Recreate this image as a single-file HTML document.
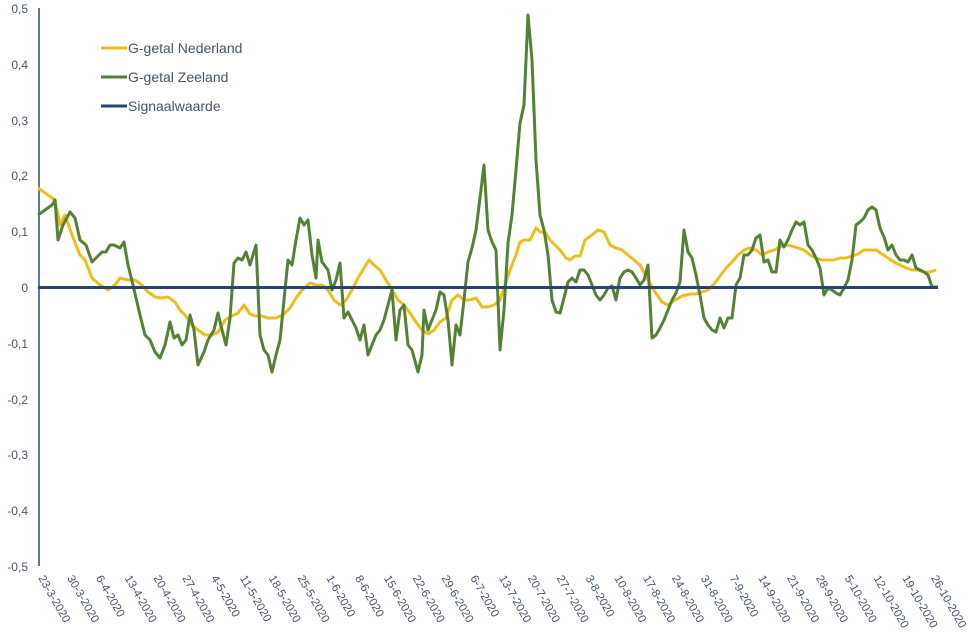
<!DOCTYPE html><html><head><style>body{margin:0;background:#fff}svg{display:block;font-family:"Liberation Sans",sans-serif}</style></head><body>
<svg width="977" height="638" xmlns="http://www.w3.org/2000/svg">
<g fill="#44546a" font-size="12" text-anchor="end">
<text x="28" y="13">0,5</text><text x="28" y="69">0,4</text><text x="28" y="125">0,3</text><text x="28" y="180">0,2</text><text x="28" y="236">0,1</text><text x="28" y="292">0</text><text x="28" y="348">-0,1</text><text x="28" y="404">-0,2</text><text x="28" y="459">-0,3</text><text x="28" y="515">-0,4</text><text x="28" y="571">-0,5</text>
</g>
<line x1="39" y1="8" x2="39" y2="566" stroke="#2f4a75" stroke-width="1.5"/>
<polyline fill="none" stroke="#f0bc1a" stroke-width="3" stroke-linejoin="round" points="38,188 55,200 60,225 65,215 72,235 80,255 85,260 92,278 100,285 108,290 115,285 120,278 128,280 135,280 142,285 148,292 155,297 162,298 168,297 175,302 180,310 185,315 192,325 198,330 205,335 212,335 218,332 225,320 232,316 238,313 244,305 250,314 255,316 262,316 268,318 276,318 283,315 290,308 296,298 302,290 310,283 316,285 322,285 328,290 334,300 340,305 346,300 352,290 358,278 364,268 369,260 374,265 380,270 386,280 392,290 398,300 404,305 410,313 416,322 422,330 428,334 434,330 440,322 446,318 452,300 458,295 464,300 470,300 476,298 482,307 488,307 494,305 500,300 505,285 510,270 516,255 520,242 524,240 530,240 536,228 540,232 545,232 550,240 555,245 560,250 566,258 570,260 575,256 580,256 585,240 592,235 598,230 604,232 610,245 616,248 622,250 628,255 634,260 640,265 648,280 655,292 662,302 668,305 675,300 682,296 690,294 696,294 702,292 708,290 714,284 720,276 726,268 732,262 738,255 744,250 750,248 756,250 762,255 768,252 774,250 780,247 786,245 792,246 798,248 804,250 810,255 816,258 822,260 828,260 834,260 840,258 846,258 852,256 858,254 864,250 870,250 876,250 882,254 888,258 894,262 900,265 906,268 912,270 918,270 924,272 930,272 936,270"/>
<polyline fill="none" stroke="#548235" stroke-width="3" stroke-linejoin="round" points="38,215 45,210 52,205 55,200 58,240 63,225 70,212 75,218 80,240 86,245 92,262 96,258 102,252 106,252 110,245 114,245 120,248 124,242 128,265 133,285 140,315 145,335 150,340 155,352 160,358 165,345 170,322 174,338 178,335 182,345 186,340 190,315 194,330 198,365 204,352 208,340 214,330 218,313 222,330 226,345 230,318 234,263 238,258 242,260 246,252 250,265 256,245 260,335 264,350 268,355 272,372 276,355 280,340 284,300 288,260 292,265 296,240 300,218 304,225 308,220 312,255 316,278 318,240 322,262 328,270 332,290 336,280 340,263 344,318 348,312 352,320 356,328 360,340 364,325 368,355 372,345 376,335 380,330 384,320 388,305 392,290 396,340 400,310 404,305 408,345 412,350 418,372 422,355 424,310 428,330 432,320 436,310 440,292 444,295 448,320 452,365 456,325 460,335 464,300 468,262 472,248 476,230 480,198 484,165 488,230 492,242 496,250 500,350 504,310 508,243 512,215 516,170 520,123 524,105 528,15 532,60 536,160 540,215 544,230 548,255 552,300 556,312 560,313 564,298 568,282 572,278 576,282 580,270 584,270 588,275 592,285 596,295 600,300 604,295 608,288 612,286 616,300 620,278 624,272 628,270 632,272 636,278 640,285 644,280 648,265 652,338 656,335 660,328 664,320 668,310 672,300 676,293 680,282 684,230 688,252 692,258 696,275 700,295 704,318 708,325 712,330 716,332 720,318 724,328 728,318 732,318 736,285 740,278 744,255 748,255 752,250 756,238 760,235 764,262 768,260 772,272 776,272 780,240 784,247 788,240 792,230 796,222 800,225 804,222 808,245 812,250 816,258 820,268 824,295 828,288 832,290 836,293 840,295 844,288 848,280 852,260 856,225 860,222 864,218 868,210 872,207 876,210 880,228 884,237 888,250 892,245 896,255 900,260 904,260 908,262 912,255 916,268 920,270 924,272 928,275 932,287 938,287"/>
<line x1="38" y1="287.5" x2="938" y2="287.5" stroke="#264478" stroke-width="3"/>
<g font-size="14" fill="#44546a">
<line x1="101" y1="48" x2="127" y2="48" stroke="#f0bc1a" stroke-width="3"/><text x="128" y="53">G-getal Nederland</text>
<line x1="101" y1="77" x2="127" y2="77" stroke="#548235" stroke-width="3"/><text x="128" y="82">G-getal Zeeland</text>
<line x1="101" y1="106" x2="127" y2="106" stroke="#264478" stroke-width="3"/><text x="128" y="111">Signaalwaarde</text>
</g>
<g font-size="11.5" fill="#44546a">
<text x="38" y="578" transform="rotate(60 38 578)">23-3-2020</text>
<text x="66.8" y="578" transform="rotate(60 66.8 578)">30-3-2020</text>
<text x="95.6" y="578" transform="rotate(60 95.6 578)">6-4-2020</text>
<text x="124.4" y="578" transform="rotate(60 124.4 578)">13-4-2020</text>
<text x="153.2" y="578" transform="rotate(60 153.2 578)">20-4-2020</text>
<text x="182" y="578" transform="rotate(60 182 578)">27-4-2020</text>
<text x="210.8" y="578" transform="rotate(60 210.8 578)">4-5-2020</text>
<text x="239.6" y="578" transform="rotate(60 239.6 578)">11-5-2020</text>
<text x="268.4" y="578" transform="rotate(60 268.4 578)">18-5-2020</text>
<text x="297.2" y="578" transform="rotate(60 297.2 578)">25-5-2020</text>
<text x="326" y="578" transform="rotate(60 326 578)">1-6-2020</text>
<text x="354.8" y="578" transform="rotate(60 354.8 578)">8-6-2020</text>
<text x="383.6" y="578" transform="rotate(60 383.6 578)">15-6-2020</text>
<text x="412.4" y="578" transform="rotate(60 412.4 578)">22-6-2020</text>
<text x="441.2" y="578" transform="rotate(60 441.2 578)">29-6-2020</text>
<text x="470" y="578" transform="rotate(60 470 578)">6-7-2020</text>
<text x="498.8" y="578" transform="rotate(60 498.8 578)">13-7-2020</text>
<text x="527.6" y="578" transform="rotate(60 527.6 578)">20-7-2020</text>
<text x="556.4" y="578" transform="rotate(60 556.4 578)">27-7-2020</text>
<text x="585.2" y="578" transform="rotate(60 585.2 578)">3-8-2020</text>
<text x="614" y="578" transform="rotate(60 614 578)">10-8-2020</text>
<text x="642.8" y="578" transform="rotate(60 642.8 578)">17-8-2020</text>
<text x="671.6" y="578" transform="rotate(60 671.6 578)">24-8-2020</text>
<text x="700.4" y="578" transform="rotate(60 700.4 578)">31-8-2020</text>
<text x="729.2" y="578" transform="rotate(60 729.2 578)">7-9-2020</text>
<text x="758" y="578" transform="rotate(60 758 578)">14-9-2020</text>
<text x="786.8" y="578" transform="rotate(60 786.8 578)">21-9-2020</text>
<text x="815.6" y="578" transform="rotate(60 815.6 578)">28-9-2020</text>
<text x="844.4" y="578" transform="rotate(60 844.4 578)">5-10-2020</text>
<text x="873.2" y="578" transform="rotate(60 873.2 578)">12-10-2020</text>
<text x="902" y="578" transform="rotate(60 902 578)">19-10-2020</text>
<text x="930.8" y="578" transform="rotate(60 930.8 578)">26-10-2020</text>
</g>
</svg></body></html>
